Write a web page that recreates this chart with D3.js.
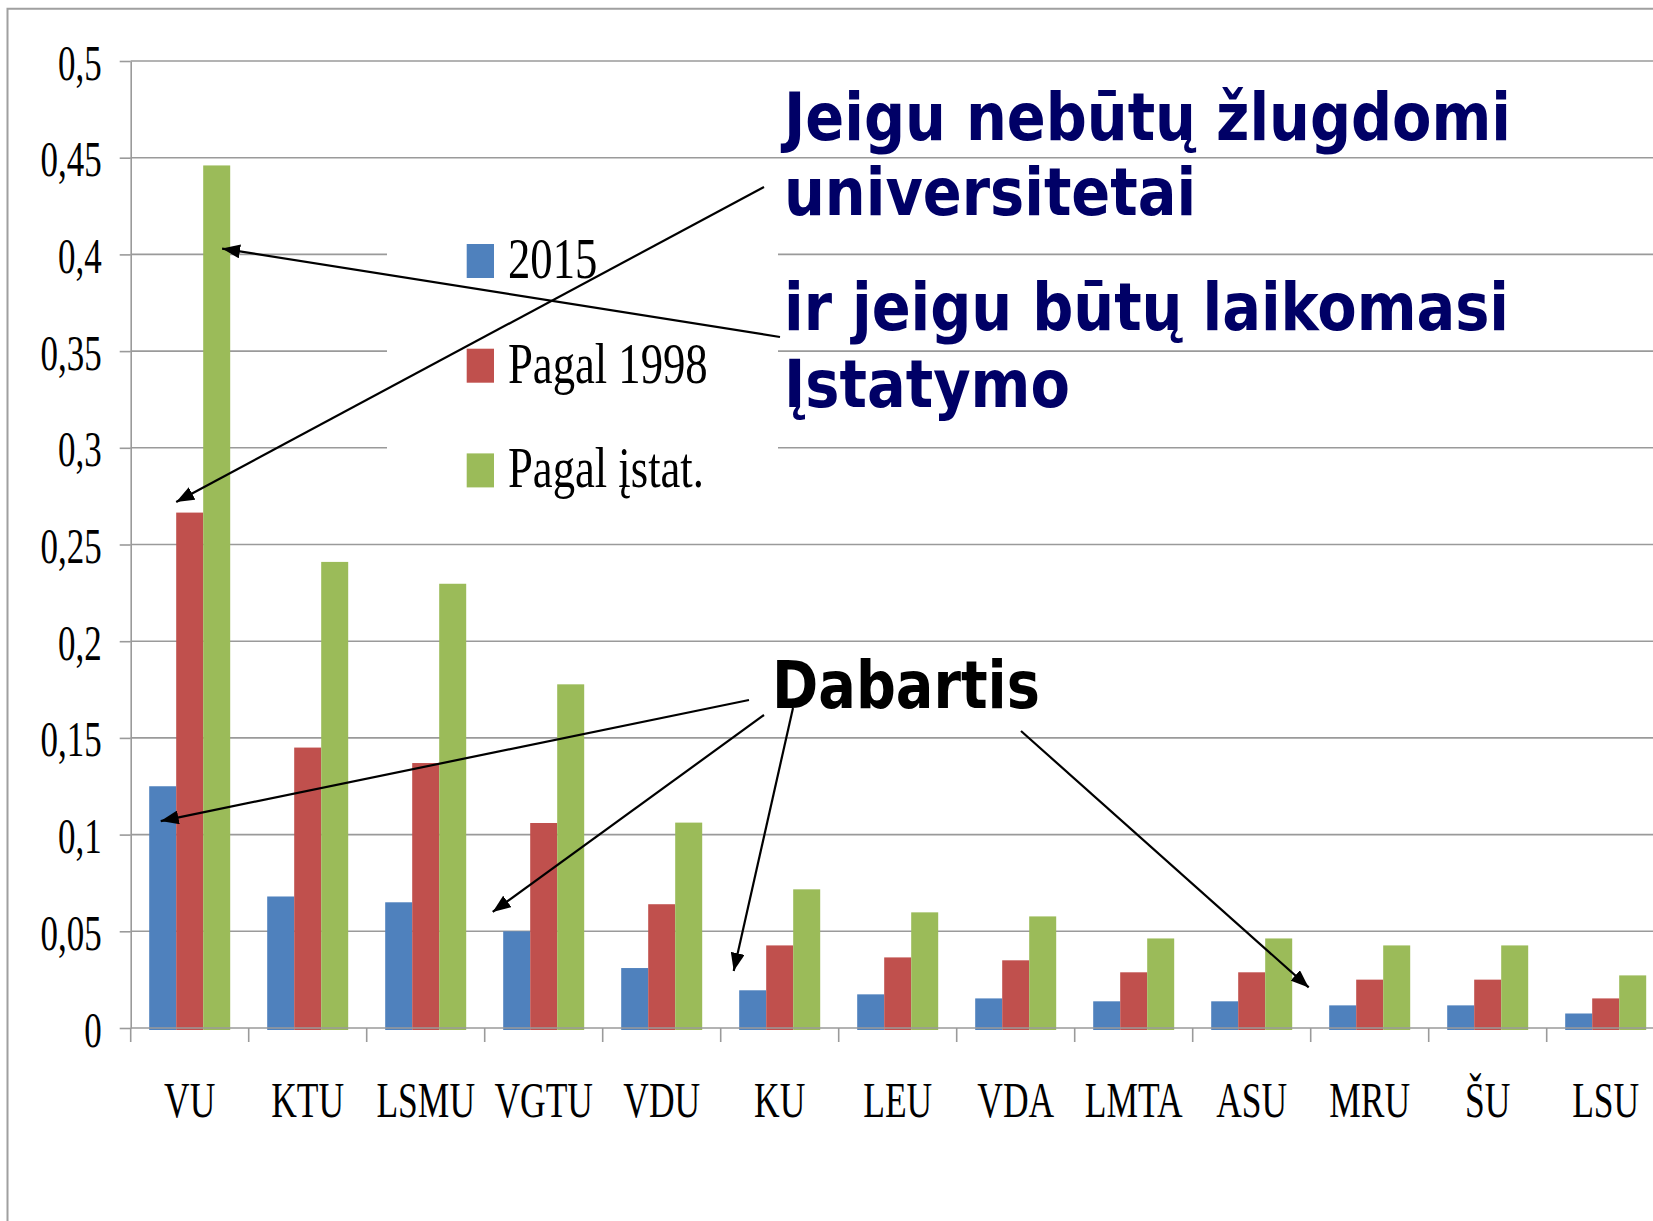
<!DOCTYPE html>
<html><head><meta charset="utf-8">
<script src="https://cdn.jsdelivr.net/npm/d3@7"></script>
<style>html,body{margin:0;padding:0;background:#fff;overflow:hidden}</style>
</head><body>
<svg id="chart" width="1653" height="1221"></svg>
<script>
const categories = ["VU","KTU","LSMU","VGTU","VDU","KU","LEU","VDA","LMTA","ASU","MRU","ŠU","LSU"];
const seriesNames = ["2015","Pagal 1998","Pagal įstat."];
const values2015  = [0.125, 0.068, 0.065, 0.050, 0.031, 0.0195, 0.0174, 0.0153, 0.0138, 0.0138, 0.0117, 0.0117, 0.0075];
const values1998  = [0.2665, 0.145, 0.137, 0.106, 0.064, 0.0427, 0.0365, 0.035, 0.0288, 0.0288, 0.025, 0.025, 0.0153];
const valuesIstat = [0.446, 0.241, 0.2297, 0.1777, 0.1062, 0.0717, 0.0598, 0.0577, 0.0463, 0.0463, 0.0427, 0.0427, 0.0272];
const yTicks = [0,0.05,0.1,0.15,0.2,0.25,0.3,0.35,0.4,0.45,0.5];
const yTickLabels = ["0","0,05","0,1","0,15","0,2","0,25","0,3","0,35","0,4","0,45","0,5"];
const annotationTop = ["Jeigu nebūtų žlugdomi","universitetai","ir jeigu būtų laikomasi","Įstatymo"];
const annotationBottom = "Dabartis";

const colors = ["#4F81BD","#C0504D","#9BBB59"];
const seriesValues = [values2015, values1998, valuesIstat];

const svg = d3.select("#chart");
const W = 1653, H = 1221;
const x0 = 130.7, band = 118;
const x = d3.scaleBand().domain(categories).range([x0, x0 + band*categories.length]).paddingInner(0).paddingOuter(0);
const xs = d3.scaleBand().domain(seriesNames).range([18.5, band - 18.5]).padding(0);
const y = d3.scaleLinear().domain([0,0.5]).range([1028,61]);
const gridColor = "#9a9a9a";

// frame
svg.append("path").attr("d", `M7.5,${H} V8.7 H${W}`).attr("fill","none").attr("stroke","#a0a0a0").attr("stroke-width",2);

// gridlines
svg.append("g").selectAll("line").data(yTicks.filter(d=>d>0)).join("line")
  .attr("x1", x0).attr("x2", W).attr("y1", d=>y(d)).attr("y2", d=>y(d))
  .attr("stroke", gridColor).attr("stroke-width",1.6);

// legend white box (covers gridlines)
svg.append("rect").attr("x",387).attr("y",180).attr("width",391).attr("height",320).attr("fill","#fff");

// bars
const data = [];
categories.forEach((c,i)=>seriesNames.forEach((s,j)=>data.push({c,s,v:seriesValues[j][i],j})));
svg.append("g").selectAll("rect").data(data).join("rect")
  .attr("x", d=>x(d.c)+xs(d.s)).attr("width", xs.bandwidth())
  .attr("y", d=>y(d.v)).attr("height", d=>y(0)-y(d.v)+2)
  .attr("fill", d=>colors[d.j]);

// y axis
const yAxis = svg.append("g").attr("transform",`translate(${x0},0)`)
  .call(d3.axisLeft(y).tickValues(yTicks).tickFormat((d,i)=>yTickLabels[i]).tickSize(11).tickSizeOuter(0));
yAxis.select(".domain").attr("stroke",gridColor).attr("stroke-width",1.6);
yAxis.selectAll(".tick line").attr("stroke",gridColor).attr("stroke-width",1.6);
yAxis.selectAll(".tick text").attr("x",null).attr("dy",null)
  .attr("transform","translate(-29,18) scale(0.7,1)")
  .attr("text-anchor","end")
  .attr("font-family","'Liberation Serif','Times New Roman',serif")
  .attr("font-size",50).attr("fill","#000");

// x axis
svg.append("line").attr("x1",x0).attr("x2",W).attr("y1",y(0)).attr("y2",y(0)).attr("stroke",gridColor).attr("stroke-width",1.6);
const bounds = categories.map(c=>x(c)).concat([x.range()[1]]);
svg.append("g").selectAll("line").data(bounds).join("line")
  .attr("x1",d=>d).attr("x2",d=>d).attr("y1",y(0)).attr("y2",y(0)+14)
  .attr("stroke",gridColor).attr("stroke-width",1.6);
svg.append("g").selectAll("text").data(categories).join("text")
  .attr("transform", d=>`translate(${x(d)+x.bandwidth()/2},1117) scale(0.71,1)`)
  .attr("text-anchor","middle")
  .attr("font-family","'Liberation Serif','Times New Roman',serif")
  .attr("font-size",50).attr("fill","#000").text(d=>d);

// legend
const leg = svg.append("g");
seriesNames.forEach((s,i)=>{
  const by = 278 + i*104.7;
  leg.append("rect").attr("x",466.7).attr("y",by-34).attr("width",27.3).attr("height",34).attr("fill",colors[i]);
  leg.append("text").attr("transform",`translate(508,${by}) scale(0.77,1)`)
    .attr("font-family","'Liberation Serif','Times New Roman',serif")
    .attr("font-size",58).attr("fill","#000").text(s);
});

// annotation texts
const annBase = [140,215,330,407];
annotationTop.forEach((t,i)=>{
  svg.append("text").attr("transform",`translate(784,${annBase[i]}) scale(0.87,1)`)
    .attr("font-family","'DejaVu Sans',Verdana,sans-serif").attr("font-weight","bold")
    .attr("font-size",66).attr("fill","#000066").text(t);
});
svg.append("text").attr("transform",`translate(772,708) scale(0.845,1)`)
  .attr("font-family","'DejaVu Sans',Verdana,sans-serif").attr("font-weight","bold")
  .attr("font-size",66).attr("fill","#000").text(annotationBottom);

// arrows
const defs = svg.append("defs");
defs.append("marker").attr("id","ah").attr("markerUnits","userSpaceOnUse")
  .attr("viewBox","0 0 18 14").attr("refX",18).attr("refY",7)
  .attr("markerWidth",18).attr("markerHeight",14).attr("orient","auto")
  .append("path").attr("d","M0,0 L18,7 L0,14 Z").attr("fill","#000");

const arrows = [
  {from:[764,187], to:[x("VU")+xs("Pagal 1998"), y(0.272)]},
  {from:[780,337], to:[x("VU")+xs("Pagal įstat.")+xs.bandwidth()*0.7, y(0.403)]},
  {from:[749,700], to:[x("VU")+30, y(0.107)]},
  {from:[764,715], to:[x("VGTU")+8, y(0.06)]},
  {from:[793,708], to:[x("KU")+13, y(0.0295)]},
  {from:[1021,731], to:[x("MRU")-2, y(0.021)]}
];
svg.append("g").selectAll("line").data(arrows).join("line")
  .attr("x1",d=>d.from[0]).attr("y1",d=>d.from[1]).attr("x2",d=>d.to[0]).attr("y2",d=>d.to[1])
  .attr("stroke","#000").attr("stroke-width",2.2).attr("marker-end","url(#ah)");
</script>
</body></html>
